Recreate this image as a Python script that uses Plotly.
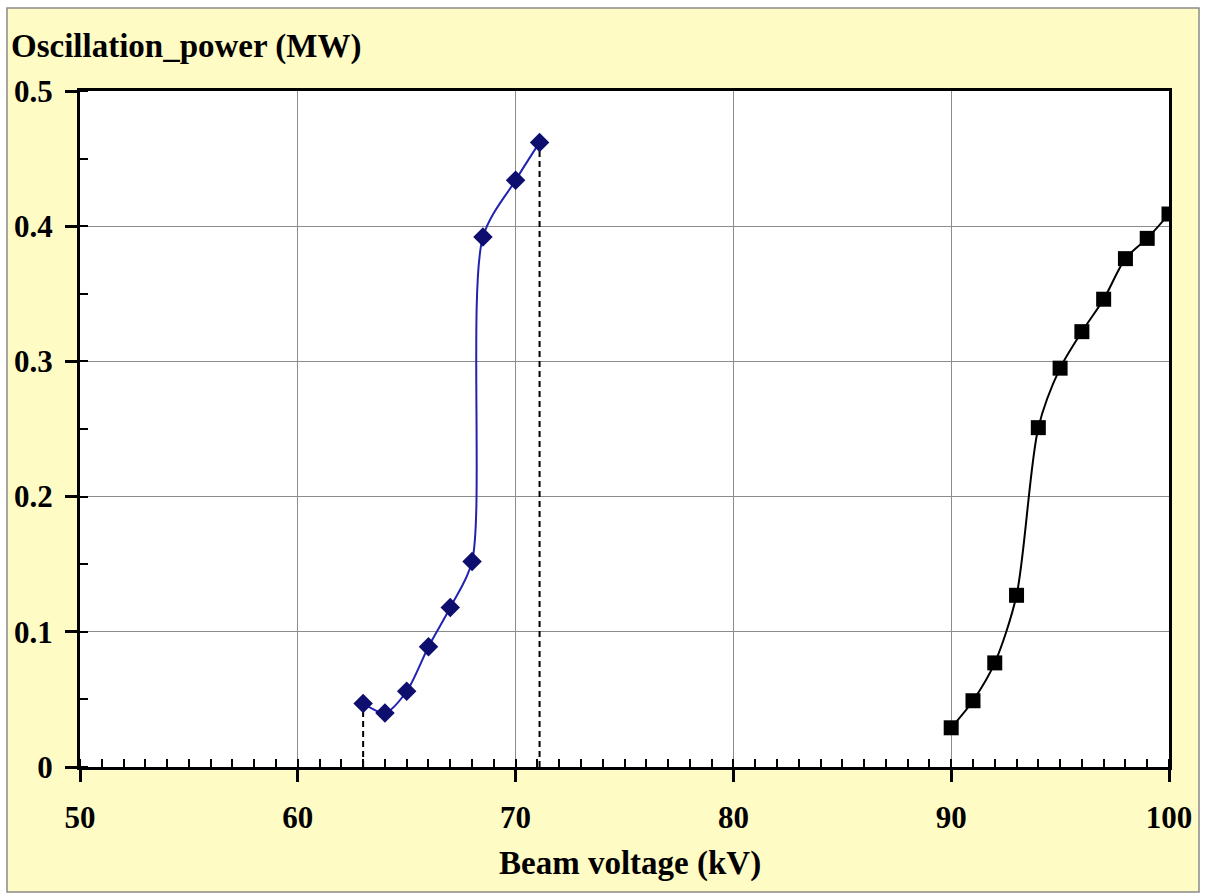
import plotly.graph_objects as go

# Data
voltage_a = [63, 64, 65, 66, 67, 68, 68.5, 70, 71.1]
power_a = [0.047, 0.040, 0.056, 0.089, 0.118, 0.152, 0.392, 0.434, 0.462]

voltage_b = [90, 91, 92, 93, 94, 95, 96, 97, 98, 99, 100]
power_b = [0.029, 0.049, 0.077, 0.127, 0.251, 0.295, 0.322, 0.346, 0.376, 0.391, 0.409]

x_ticks = [50, 60, 70, 80, 90, 100]
y_ticks = [0, 0.1, 0.2, 0.3, 0.4, 0.5]
y_tick_text = ["0", "0.1", "0.2", "0.3", "0.4", "0.5"]

W, H = 1205, 896
L, R, T, B = 80, 1169, 91, 767
pw, ph = R - L, B - T

FONT = "Liberation Serif"
YELLOW = "#FFFBC4"

fig = go.Figure()

# dashed drop lines at the ends of the first curve
for i in (0, -1):
    fig.add_trace(go.Scatter(x=[voltage_a[i], voltage_a[i]], y=[0, power_a[i]], mode="lines",
                             line=dict(color="black", width=2, dash="6px,4px"),
                             showlegend=False, hoverinfo="skip"))

fig.add_trace(go.Scatter(x=voltage_a, y=power_a, mode="lines+markers",
                         line=dict(color="#2222B0", width=2, shape="spline", smoothing=0.8),
                         marker=dict(symbol="diamond", size=15, color="#0E0E6E"),
                         showlegend=False))
fig.add_trace(go.Scatter(x=voltage_b, y=power_b, mode="lines+markers",
                         line=dict(color="black", width=2, shape="spline", smoothing=0.8),
                         marker=dict(symbol="square", size=15, color="black"),
                         showlegend=False))

def px_x(p):
    return (p - L) / pw

def px_y(p):
    return (B - p) / ph

fig.add_shape(type="rect", xref="paper", yref="paper",
              x0=px_x(7), x1=px_x(1199), y0=px_y(892), y1=px_y(8),
              fillcolor=YELLOW, line=dict(color="#8a8a8a", width=1.5), layer="below")
fig.add_shape(type="rect", xref="paper", yref="paper",
              x0=0, x1=1, y0=0, y1=1, fillcolor="white", line=dict(width=0), layer="below")

fig.add_annotation(text="<b>Oscillation_power (MW)</b>", xref="paper", yref="paper",
                   x=px_x(9), y=px_y(46), xanchor="left", yanchor="middle", showarrow=False,
                   font=dict(family=FONT, size=33, color="black"))
fig.add_annotation(text="<b>Beam voltage (kV)</b>", xref="paper", yref="paper",
                   x=px_x(630), y=px_y(864), xanchor="center", yanchor="middle", showarrow=False,
                   font=dict(family=FONT, size=33, color="black"))

fig.update_xaxes(range=[50, 100], tickvals=x_ticks, ticktext=[f"<b>{v}</b>" for v in x_ticks],
                 showgrid=True, gridcolor="#8c8c8c", gridwidth=1,
                 showline=True, linecolor="black", linewidth=3, mirror=True,
                 ticks="outside", ticklen=12, tickwidth=3, tickcolor="black",
                 minor=dict(dtick=1, ticks="inside", ticklen=8, tickwidth=2, tickcolor="black", showgrid=False),
                 ticklabelstandoff=9, zeroline=False,
                 tickfont=dict(family=FONT, size=31, color="black"))
fig.update_yaxes(range=[0, 0.5], tickvals=y_ticks, ticktext=[f"<b>{t}</b>" for t in y_tick_text],
                 showgrid=True, gridcolor="#8c8c8c", gridwidth=1,
                 showline=True, linecolor="black", linewidth=3, mirror=True,
                 ticks="outside", ticklen=12, tickwidth=3, tickcolor="black",
                 minor=dict(dtick=0.05, ticks="inside", ticklen=8, tickwidth=2, tickcolor="black", showgrid=False),
                 ticklabelstandoff=6, zeroline=False,
                 tickfont=dict(family=FONT, size=31, color="black"))

fig.update_layout(width=W, height=H, margin=dict(l=L, r=W - R, t=T, b=H - B),
                  paper_bgcolor="white", plot_bgcolor="white", showlegend=False)

fig.write_html("out.html")
